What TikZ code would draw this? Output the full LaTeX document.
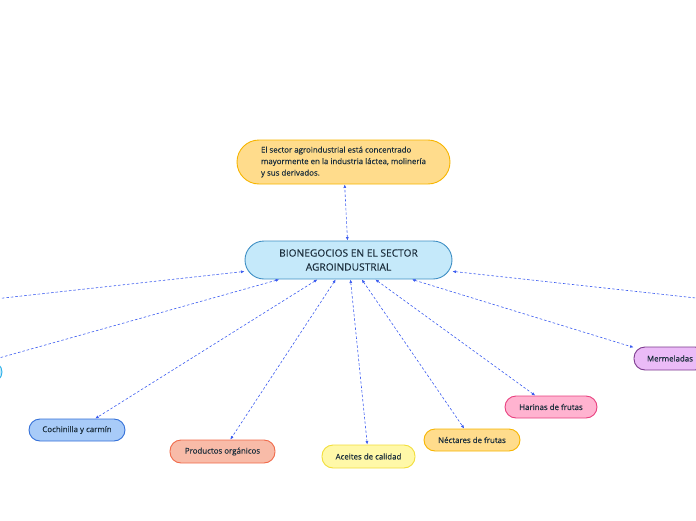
\documentclass[tikz,border=0pt]{standalone}
\usepackage{fontspec}
\setmainfont{Open Sans}[FakeBold=0.3]
\usetikzlibrary{arrows.meta, positioning}

\definecolor{textdark}{HTML}{1B2E3C}
\definecolor{linkblue}{HTML}{3A5BF0}
\definecolor{mainfill}{HTML}{C5E9FA}
\definecolor{maindraw}{HTML}{3F8FC4}
\definecolor{orangefill}{HTML}{FFDC8C}
\definecolor{orangedraw}{HTML}{F7B500}
\definecolor{bluefill}{HTML}{A8CBF8}
\definecolor{bluedraw}{HTML}{3470D8}
\definecolor{salmonfill}{HTML}{F8BBA8}
\definecolor{salmondraw}{HTML}{F06A4A}
\definecolor{yellowfill}{HTML}{FFF8A8}
\definecolor{yellowdraw}{HTML}{F2DE3A}
\definecolor{pinkfill}{HTML}{FFB3D0}
\definecolor{pinkdraw}{HTML}{E8407F}
\definecolor{lilacfill}{HTML}{EBBBF7}
\definecolor{lilacdraw}{HTML}{7C3A8E}
\definecolor{cyandraw}{HTML}{2AB0E8}

\begin{document}
\begin{tikzpicture}[
    node distance=150pt,
    box/.style={rectangle, draw, line width=0.9pt, rounded corners=11pt, text=textdark, font=\fontsize{7.9}{9}\selectfont, minimum height=22pt, inner sep=0pt},
    link/.style={{Latex[length=3.5pt,width=3pt]}-{Latex[length=3.5pt,width=3pt]}, linkblue, line width=0.6pt, dash pattern=on 2.5pt off 2pt}
]
    % Frame of the page
    \useasboundingbox (-348.5pt,260pt) rectangle (347.5pt,-260pt);
    \clip (-348.5pt,260pt) rectangle (347.5pt,-260pt);

    % Central topic
    \node[box, fill=mainfill, draw=maindraw, minimum width=207pt, minimum height=38pt, rounded corners=19pt, align=center, font=\fontsize{10.2}{14}\selectfont] (main) {BIONEGOCIOS EN EL SECTOR\\AGROINDUSTRIAL};

    % Note above
    \node[box, above of=main, node distance=98pt, xshift=-5pt, fill=orangefill, draw=orangedraw, minimum width=213pt, minimum height=44pt, rounded corners=22pt, align=left, font=\fontsize{7.9}{11.5}\selectfont] (note) {El sector agroindustrial está concentrado\\mayormente en la industria láctea, molinería\\y sus derivados.};

    % Products
    \node[box, below of=main, xshift=-271.5pt, yshift=-20pt, fill=bluefill, draw=bluedraw, minimum width=96pt] (carmin) {Cochinilla y carmín};
    \node[box, below of=main, xshift=-126pt, yshift=-41.5pt, fill=salmonfill, draw=salmondraw, minimum width=105pt, minimum height=23pt] (organicos) {Productos orgánicos};
    \node[box, below of=main, xshift=20pt, yshift=-46.5pt, fill=yellowfill, draw=yellowdraw, minimum width=93pt, minimum height=23pt] (aceites) {Aceites de calidad};
    \node[box, below of=main, xshift=123.5pt, yshift=-30pt, fill=orangefill, draw=orangedraw, minimum width=96pt] (nectares) {Néctares de frutas};
    \node[box, below of=main, xshift=202.5pt, yshift=3pt, fill=pinkfill, draw=pinkdraw, minimum width=92pt] (harinas) {Harinas de frutas};
    \node[box, below of=main, xshift=321.5pt, yshift=51.5pt, fill=lilacfill, draw=lilacdraw, minimum width=72pt, minimum height=23pt] (mermeladas) {Mermeladas};

    % Cut off at the edges
    \node[box, below of=main, xshift=-399.5pt, yshift=38pt, fill=mainfill, draw=cyandraw, minimum width=106pt, minimum height=20pt, rounded corners=10pt] (leftcut) {};
    \coordinate (offleft) at (-408.5pt,-45pt);
    \coordinate (offright) at (411.5pt,-45pt);

    % Links
    \draw[link] (main) -- (note);
    \draw[link] (main) -- (carmin);
    \draw[link] (main) -- (organicos);
    \draw[link] (main) -- (aceites);
    \draw[link] (main) -- (nectares);
    \draw[link] (main) -- (harinas);
    \draw[link] (main) -- (mermeladas);
    \draw[link] (main) -- (leftcut);
    \draw[link] (main) -- (offleft);
    \draw[link] (main) -- (offright);
\end{tikzpicture}
\end{document}
